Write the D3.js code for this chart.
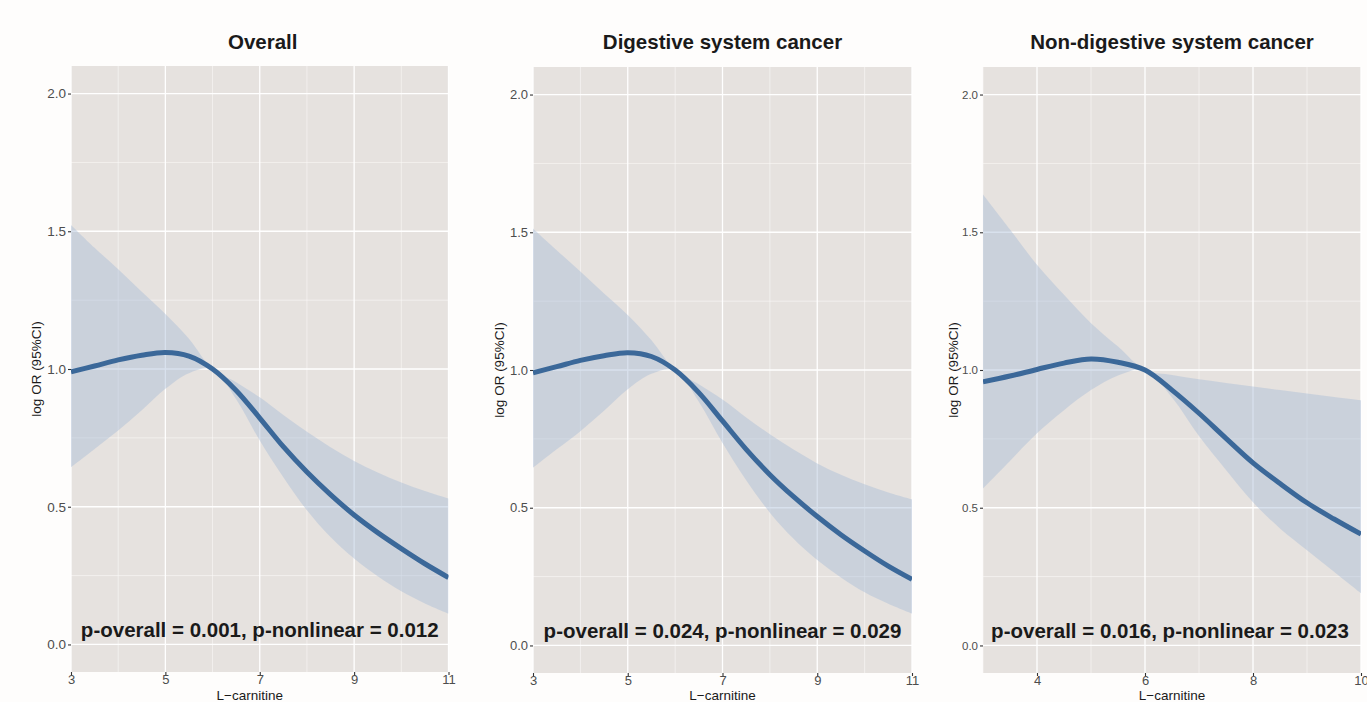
<!DOCTYPE html>
<html>
<head>
  <meta charset="UTF-8">
  <style>
    body { margin: 0; background: #fefdfc; }
    svg { display: block; font-family: "Liberation Sans", Arial, sans-serif; }
  </style>
</head>
<body>
  <svg></svg>
<script src="https://d3js.org/d3.v7.min.js"></script>
<script>
let width = 1367,
    height = 702;

// panel 1: Overall
let xOverall     = [3, 3.5, 4, 4.5, 5, 5.5, 6, 6.5, 7, 7.5, 8, 8.5, 9, 9.5, 10, 10.5, 11];
let fitOverall   = [0.99, 1.011, 1.033, 1.05, 1.06, 1.047, 1.0, 0.922, 0.822, 0.718, 0.626, 0.544, 0.47, 0.406, 0.348, 0.293, 0.243];
let lowerOverall = [0.644, 0.71, 0.777, 0.85, 0.928, 0.985, 1.0, 0.89, 0.74, 0.607, 0.487, 0.39, 0.312, 0.248, 0.193, 0.149, 0.112];
let upperOverall = [1.523, 1.44, 1.362, 1.28, 1.2, 1.11, 1.0, 0.952, 0.897, 0.833, 0.772, 0.716, 0.666, 0.624, 0.588, 0.557, 0.53];

// panel 2: Digestive system cancer
let xDigest     = [3, 3.5, 4, 4.5, 5, 5.5, 6, 6.5, 7, 7.5, 8, 8.5, 9, 9.5, 10, 10.5, 11];
let fitDigest   = [0.99, 1.012, 1.035, 1.052, 1.063, 1.049, 1.0, 0.918, 0.815, 0.712, 0.62, 0.54, 0.468, 0.402, 0.343, 0.288, 0.24];
let lowerDigest = [0.645, 0.712, 0.778, 0.852, 0.93, 0.986, 1.0, 0.885, 0.735, 0.6, 0.482, 0.387, 0.31, 0.247, 0.193, 0.151, 0.115];
let upperDigest = [1.514, 1.435, 1.358, 1.278, 1.2, 1.108, 1.0, 0.948, 0.893, 0.828, 0.767, 0.711, 0.661, 0.62, 0.585, 0.555, 0.53];

// panel 3: Non-digestive system cancer
let xNonDigest     = [3, 3.5, 4, 4.5, 5, 5.5, 6, 6.5, 7, 7.5, 8, 8.5, 9, 9.5, 10];
let fitNonDigest   = [0.957, 0.978, 1.002, 1.025, 1.04, 1.028, 1.0, 0.927, 0.843, 0.752, 0.663, 0.588, 0.518, 0.459, 0.404];
let lowerNonDigest = [0.57, 0.67, 0.77, 0.854, 0.927, 0.98, 1.0, 0.9, 0.76, 0.637, 0.52, 0.425, 0.346, 0.268, 0.19];
let upperNonDigest = [1.637, 1.51, 1.382, 1.273, 1.17, 1.085, 1.0, 0.982, 0.966, 0.953, 0.94, 0.927, 0.915, 0.902, 0.89];

let titles = ["Overall", "Digestive system cancer", "Non-digestive system cancer"];
let pLabels = [
  "p-overall = 0.001, p-nonlinear = 0.012",
  "p-overall = 0.024, p-nonlinear = 0.029",
  "p-overall = 0.016, p-nonlinear = 0.023"
];
let xMajor = [[3, 5, 7, 9, 11], [3, 5, 7, 9, 11], [4, 6, 8, 10]];
let xMinor = [[4, 6, 8, 10], [4, 6, 8, 10], [3, 5, 7, 9]];
let yMajor = [0, 0.5, 1.0, 1.5, 2.0];
let yMinor = [0.25, 0.75, 1.25, 1.75];

let panels = [
  { x: xOverall, fit: fitOverall, lo: lowerOverall, hi: upperOverall, xdom: [3, 11], left: 71, right: 448.5, top: 66, bottom: 672, ytitle: 36, ytick: 13.5, xtDx: -10 },
  { x: xDigest, fit: fitDigest, lo: lowerDigest, hi: upperDigest, xdom: [3, 11], left: 533, right: 912, top: 67, bottom: 673, ytitle: 499, ytick: 13, xtDx: 0 },
  { x: xNonDigest, fit: fitNonDigest, lo: lowerNonDigest, hi: upperNonDigest, xdom: [3, 10], left: 983, right: 1361, top: 67, bottom: 673, ytitle: 953, ytick: 11.5, xtDx: 0 }
];

let svg = d3.select("svg")
    .attr("width", width)
    .attr("height", height);

panels.forEach((p, i) => {
  let x = d3.scaleLinear().domain(p.xdom).range([p.left, p.right]);
  let y = d3.scaleLinear().domain([-0.1, 2.1]).range([p.bottom, p.top]);
  let cx = (p.left + p.right) / 2;

  let g = svg.append("g");

  g.append("clipPath")
    .attr("id", "clip" + i)
    .append("rect")
    .attr("x", p.left).attr("y", p.top)
    .attr("width", p.right - p.left).attr("height", p.bottom - p.top);

  g.append("rect")
    .attr("x", p.left).attr("y", p.top)
    .attr("width", p.right - p.left).attr("height", p.bottom - p.top)
    .attr("fill", "#e6e2df");

  // grid
  g.selectAll(".vminor").data(xMinor[i]).enter().append("line")
    .attr("x1", d => x(d)).attr("x2", d => x(d))
    .attr("y1", p.top).attr("y2", p.bottom)
    .attr("stroke", "#fbfaf9").attr("stroke-width", 0.6);
  g.selectAll(".hminor").data(yMinor).enter().append("line")
    .attr("x1", p.left).attr("x2", p.right)
    .attr("y1", d => y(d)).attr("y2", d => y(d))
    .attr("stroke", "#fbfaf9").attr("stroke-width", 0.6);
  g.selectAll(".vmajor").data(xMajor[i]).enter().append("line")
    .attr("x1", d => x(d)).attr("x2", d => x(d))
    .attr("y1", p.top).attr("y2", p.bottom)
    .attr("stroke", "#ffffff").attr("stroke-width", 1.3);
  g.selectAll(".hmajor").data(yMajor).enter().append("line")
    .attr("x1", p.left).attr("x2", p.right)
    .attr("y1", d => y(d)).attr("y2", d => y(d))
    .attr("stroke", "#ffffff").attr("stroke-width", 1.3);

  let rows = p.x.map((v, k) => ({ x: v, fit: p.fit[k], lo: p.lo[k], hi: p.hi[k] }));

  let plot = g.append("g").attr("clip-path", "url(#clip" + i + ")");

  plot.append("path")
    .datum(rows)
    .attr("fill", "#a9bdd6")
    .attr("fill-opacity", 0.45)
    .attr("d", d3.area()
      .curve(d3.curveCatmullRom.alpha(0.5))
      .x(d => x(d.x))
      .y0(d => y(d.lo))
      .y1(d => y(d.hi)));

  plot.append("path")
    .datum(rows)
    .attr("fill", "none")
    .attr("stroke", "#3b6899")
    .attr("stroke-width", 5)
    .attr("d", d3.line()
      .curve(d3.curveCatmullRom.alpha(0.5))
      .x(d => x(d.x))
      .y(d => y(d.fit)));

  // axes
  let xAxis = g.append("g")
    .attr("transform", "translate(0," + p.bottom + ")")
    .call(d3.axisBottom(x).tickValues(xMajor[i]).tickFormat(d3.format("d")).tickSize(3).tickPadding(0));
  let yAxis = g.append("g")
    .attr("transform", "translate(" + p.left + ",0)")
    .call(d3.axisLeft(y).tickValues(yMajor).tickFormat(d3.format(".1f")).tickSize(3).tickPadding(2));
  [xAxis, yAxis].forEach(a => {
    a.select(".domain").remove();
    a.selectAll(".tick line").attr("stroke", "#333").attr("stroke-width", 1.1);
    a.selectAll("text").attr("fill", "#4d4d4d").style("font-family", "'Liberation Sans', Arial, sans-serif");
  });
  xAxis.selectAll("text").style("font-size", "13px");
  yAxis.selectAll("text").style("font-size", p.ytick + "px");

  g.append("text")
    .attr("x", cx + p.xtDx).attr("y", 700)
    .attr("text-anchor", "middle")
    .attr("fill", "#1a1a1a")
    .style("font-size", "13.5px")
    .text("L\u2212carnitine");

  g.append("text")
    .attr("transform", "translate(" + p.ytitle + "," + ((p.top + p.bottom) / 2) + ") rotate(-90)")
    .attr("text-anchor", "middle")
    .attr("dy", "0.35em")
    .attr("fill", "#1a1a1a")
    .style("font-size", "13.5px")
    .text("log OR (95%CI)");

  g.append("text")
    .attr("x", cx + (i == 0 ? 3 : 0)).attr("y", 49)
    .attr("text-anchor", "middle")
    .attr("fill", "#1a1a1a")
    .style("font-size", "20.5px")
    .style("font-weight", "bold")
    .text(titles[i]);

  g.append("text")
    .attr("x", cx - (i == 2 ? 2 : 0)).attr("y", y(0) - 7)
    .attr("text-anchor", "middle")
    .attr("fill", "#1a1a1a")
    .style("font-size", "20.5px")
    .style("font-weight", "bold")
    .text(pLabels[i]);
});
</script>
</body>
</html>
